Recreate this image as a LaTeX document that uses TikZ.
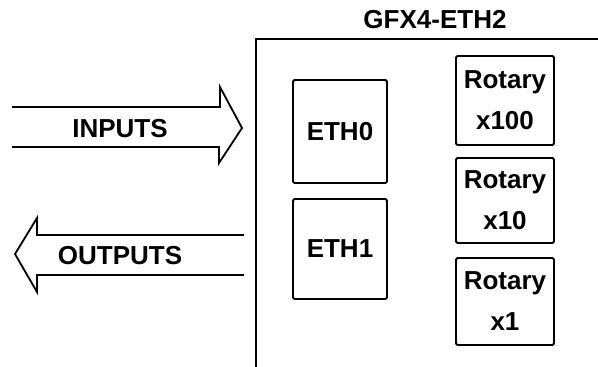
\documentclass[tikz,border=0pt]{standalone}
\usepackage{fontspec}
\setmainfont{Liberation Sans}
\begin{document}
\begin{tikzpicture}[x=1pt,y=-1pt,
  lbl/.style={font=\bfseries\fontsize{26}{41}\selectfont,inner sep=0pt},
  box/.style={draw,line width=1.8pt,rounded corners=1.5pt,align=center,font=\bfseries\fontsize{26}{41}\selectfont,inner sep=0pt},
  ln/.style={line width=1.8pt,line join=miter}]
\useasboundingbox (0,0) rectangle (598,367);
% frame
\draw[ln] (256,367) -- (256,39) -- (598,39);
\node[lbl] (title) at (435,20) {GFX4-ETH2};
% ETH boxes
\node[box,minimum width=94pt,minimum height=103pt] (eth0) at (340,131.5) {ETH0};
\node[box,minimum width=94pt,minimum height=100pt] (eth1) at (340,249) {ETH1};
% rotary
\node[box,minimum width=98pt,minimum height=89pt] (r100) at (505,100.5) {Rotary\\x100};
\node[box,minimum width=98pt,minimum height=85pt] (r10) at (505,200.5) {Rotary\\x10};
\node[box,minimum width=98pt,minimum height=87pt] (r1) at (505,301.5) {Rotary\\x1};
% inputs arrow
\draw[ln] (12,107) -- (220,107) -- (220,87) -- (242,128) -- (219,163) -- (219,147) -- (12,147);
\node[lbl] (in) at (120,129) {INPUTS};
% outputs arrow
\draw[ln] (244,235) -- (37,235) -- (37,218) -- (15,254) -- (37,292) -- (37,275) -- (244,275);
\node[lbl] (out) at (120,256) {OUTPUTS};
\end{tikzpicture}
\end{document}
